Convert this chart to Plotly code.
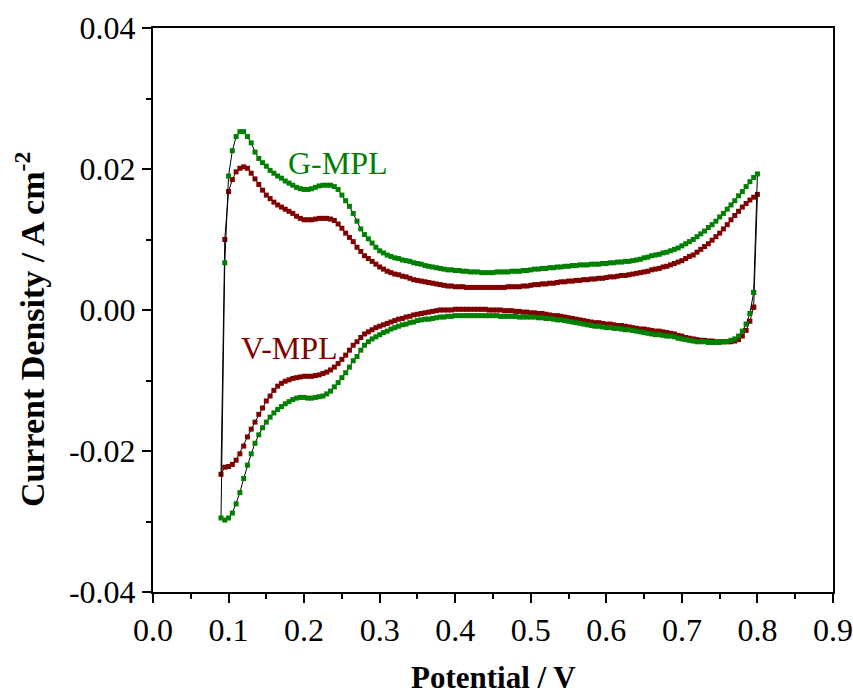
import numpy as np
import plotly.graph_objects as go

# Potential sweep grids (V), step 0.005 V
upper_start, upper_stop = 0.095, 0.800   # anodic (forward) branch
lower_start, lower_stop = 0.795, 0.090   # cathodic (reverse) branch
step = 0.005
upper_E = np.round(np.arange(upper_start, upper_stop + step / 2, step), 3)
lower_E = np.round(np.arange(lower_start, lower_stop - step / 2, -step), 3)

# G-MPL current density (A cm^-2)
g_upper = [
    0.0067, 0.0190, 0.0226, 0.0246, 0.0253, 0.0253, 0.0246, 0.0237, 0.0224, 0.0215,
    0.0209, 0.0204, 0.0198, 0.0194, 0.0190, 0.0187, 0.0183, 0.0180, 0.0177, 0.0174,
    0.0172, 0.0171, 0.0171, 0.0172, 0.0174, 0.0176, 0.0177, 0.0177, 0.0177, 0.0175,
    0.0171, 0.0163, 0.0155, 0.0147, 0.0137, 0.0126, 0.0115, 0.0107, 0.0101, 0.0095,
    0.0089, 0.0084, 0.0081, 0.0078, 0.0076, 0.0074, 0.0073, 0.0071, 0.0070, 0.0069,
    0.0067, 0.0066, 0.0065, 0.0063, 0.0062, 0.0061, 0.0060, 0.0059, 0.0058, 0.0057,
    0.0057, 0.0056, 0.0056, 0.0055, 0.0055, 0.0054, 0.0054, 0.0054, 0.0053, 0.0053,
    0.0053, 0.0053, 0.0054, 0.0054, 0.0054, 0.0054, 0.0055, 0.0055, 0.0055, 0.0056,
    0.0056, 0.0057, 0.0058, 0.0058, 0.0059, 0.0059, 0.0060, 0.0060, 0.0061, 0.0061,
    0.0062, 0.0062, 0.0063, 0.0063, 0.0064, 0.0064, 0.0064, 0.0065, 0.0065, 0.0065,
    0.0066, 0.0066, 0.0067, 0.0067, 0.0068, 0.0068, 0.0069, 0.0069, 0.0070, 0.0071,
    0.0072, 0.0074, 0.0075, 0.0077, 0.0078, 0.0079, 0.0081, 0.0082, 0.0084, 0.0086,
    0.0088, 0.0091, 0.0094, 0.0097, 0.0100, 0.0104, 0.0108, 0.0112, 0.0117, 0.0121,
    0.0126, 0.0132, 0.0137, 0.0143, 0.0149, 0.0155, 0.0162, 0.0168, 0.0175, 0.0182,
    0.0188, 0.0193,
]
g_lower = [
    0.0025, -0.0005, -0.0020, -0.0030, -0.0037, -0.0041, -0.0043, -0.0045, -0.0045, -0.0046,
    -0.0046, -0.0046, -0.0046, -0.0045, -0.0045, -0.0045, -0.0044, -0.0043, -0.0042, -0.0041,
    -0.0040, -0.0038, -0.0037, -0.0037, -0.0036, -0.0035, -0.0035, -0.0034, -0.0033, -0.0032,
    -0.0031, -0.0030, -0.0029, -0.0028, -0.0028, -0.0027, -0.0026, -0.0026, -0.0025, -0.0025,
    -0.0024, -0.0023, -0.0023, -0.0022, -0.0021, -0.0020, -0.0019, -0.0018, -0.0017, -0.0016,
    -0.0015, -0.0014, -0.0014, -0.0013, -0.0012, -0.0012, -0.0011, -0.0011, -0.0010, -0.0010,
    -0.0010, -0.0010, -0.0010, -0.0009, -0.0009, -0.0009, -0.0009, -0.0009, -0.0008, -0.0008,
    -0.0008, -0.0008, -0.0008, -0.0008, -0.0008, -0.0008, -0.0008, -0.0008, -0.0008, -0.0008,
    -0.0009, -0.0009, -0.0010, -0.0010, -0.0011, -0.0012, -0.0013, -0.0013, -0.0014, -0.0015,
    -0.0017, -0.0018, -0.0020, -0.0021, -0.0023, -0.0025, -0.0027, -0.0030, -0.0032, -0.0035,
    -0.0038, -0.0041, -0.0045, -0.0050, -0.0057, -0.0066, -0.0072, -0.0081, -0.0089, -0.0096,
    -0.0103, -0.0109, -0.0115, -0.0119, -0.0122, -0.0123, -0.0124, -0.0125, -0.0125, -0.0124,
    -0.0124, -0.0125, -0.0127, -0.0130, -0.0133, -0.0137, -0.0141, -0.0146, -0.0152, -0.0159,
    -0.0167, -0.0177, -0.0189, -0.0204, -0.0220, -0.0239, -0.0259, -0.0275, -0.0288, -0.0295,
    -0.0298, -0.0295,
]

# V-MPL current density (A cm^-2)
v_upper = [
    0.0100, 0.0168, 0.0185, 0.0196, 0.0201, 0.0203, 0.0201, 0.0194, 0.0186, 0.0178,
    0.0170, 0.0163, 0.0158, 0.0153, 0.0149, 0.0146, 0.0143, 0.0140, 0.0137, 0.0133,
    0.0130, 0.0128, 0.0128, 0.0128, 0.0129, 0.0130, 0.0130, 0.0130, 0.0129, 0.0127,
    0.0122, 0.0116, 0.0109, 0.0103, 0.0097, 0.0089, 0.0083, 0.0077, 0.0073, 0.0069,
    0.0065, 0.0061, 0.0058, 0.0055, 0.0053, 0.0051, 0.0050, 0.0048, 0.0047, 0.0045,
    0.0043, 0.0042, 0.0041, 0.0040, 0.0039, 0.0038, 0.0037, 0.0036, 0.0035, 0.0034,
    0.0034, 0.0033, 0.0033, 0.0033, 0.0032, 0.0032, 0.0032, 0.0032, 0.0032, 0.0032,
    0.0032, 0.0032, 0.0032, 0.0032, 0.0032, 0.0033, 0.0033, 0.0033, 0.0033, 0.0034,
    0.0034, 0.0035, 0.0036, 0.0036, 0.0037, 0.0037, 0.0038, 0.0038, 0.0039, 0.0040,
    0.0040, 0.0041, 0.0041, 0.0042, 0.0042, 0.0043, 0.0043, 0.0044, 0.0044, 0.0045,
    0.0045, 0.0046, 0.0047, 0.0047, 0.0048, 0.0049, 0.0049, 0.0050, 0.0051, 0.0052,
    0.0053, 0.0054, 0.0055, 0.0057, 0.0058, 0.0059, 0.0061, 0.0062, 0.0064, 0.0066,
    0.0068, 0.0070, 0.0073, 0.0076, 0.0078, 0.0082, 0.0086, 0.0090, 0.0094, 0.0099,
    0.0104, 0.0109, 0.0115, 0.0121, 0.0128, 0.0134, 0.0140, 0.0146, 0.0151, 0.0156,
    0.0160, 0.0164,
]
v_lower = [
    0.0004, -0.0016, -0.0029, -0.0037, -0.0042, -0.0044, -0.0045, -0.0045, -0.0045, -0.0045,
    -0.0045, -0.0044, -0.0044, -0.0043, -0.0043, -0.0042, -0.0041, -0.0040, -0.0039, -0.0037,
    -0.0036, -0.0034, -0.0033, -0.0032, -0.0031, -0.0030, -0.0030, -0.0029, -0.0028, -0.0027,
    -0.0027, -0.0026, -0.0025, -0.0024, -0.0023, -0.0022, -0.0022, -0.0021, -0.0020, -0.0020,
    -0.0019, -0.0018, -0.0018, -0.0017, -0.0016, -0.0015, -0.0014, -0.0013, -0.0012, -0.0011,
    -0.0010, -0.0009, -0.0008, -0.0008, -0.0007, -0.0006, -0.0005, -0.0005, -0.0004, -0.0004,
    -0.0003, -0.0003, -0.0002, -0.0002, -0.0001, -0.0001, -0.0001, 0.0000, 0.0000, 0.0000,
    0.0000, 0.0001, 0.0001, 0.0001, 0.0001, 0.0001, 0.0001, 0.0001, 0.0001, 0.0001,
    0.0000, 0.0000, 0.0000, 0.0000, -0.0001, -0.0002, -0.0003, -0.0004, -0.0005, -0.0006,
    -0.0007, -0.0009, -0.0010, -0.0012, -0.0013, -0.0015, -0.0017, -0.0019, -0.0021, -0.0023,
    -0.0025, -0.0028, -0.0031, -0.0034, -0.0039, -0.0045, -0.0050, -0.0057, -0.0064, -0.0070,
    -0.0076, -0.0081, -0.0085, -0.0088, -0.0090, -0.0092, -0.0093, -0.0094, -0.0094, -0.0094,
    -0.0095, -0.0096, -0.0097, -0.0099, -0.0101, -0.0104, -0.0108, -0.0114, -0.0122, -0.0129,
    -0.0139, -0.0148, -0.0159, -0.0169, -0.0180, -0.0193, -0.0204, -0.0213, -0.0219, -0.0222,
    -0.0223, -0.0233,
]

# Axis ticks
x_tickvals = [0.0, 0.1, 0.2, 0.3, 0.4, 0.5, 0.6, 0.7, 0.8, 0.9]
x_ticktext = ["0.0", "0.1", "0.2", "0.3", "0.4", "0.5", "0.6", "0.7", "0.8", "0.9"]
y_tickvals = [-0.04, -0.02, 0.0, 0.02, 0.04]
y_ticktext = ["-0.04", "-0.02", "0.00", "0.02", "0.04"]

series = [
    ("V-MPL", v_lower, v_upper, "#800000"),
    ("G-MPL", g_lower, g_upper, "#008000"),
]
labels = [
    ("G-MPL", 0.245, 0.0208, "#008000"),
    ("V-MPL", 0.180, -0.0054, "#800000"),
]

FONT = "Liberation Serif"

fig = go.Figure()
for name, lower, upper, color in series:
    xs = list(lower_E) + list(upper_E) + [lower_E[0]]
    ys = list(lower) + list(upper) + [lower[0]]
    fig.add_trace(go.Scatter(
        x=xs, y=ys, mode="lines+markers", name=name,
        line=dict(color="black", width=1),
        marker=dict(symbol="square", size=5, color=color, line=dict(width=0)),
        showlegend=False,
    ))

for text, x, y, color in labels:
    fig.add_annotation(x=x, y=y, text=text, showarrow=False,
                       font=dict(family=FONT, size=32, color=color))

# axis titles placed as annotations to match reference positions
fig.add_annotation(
    xref="paper", yref="paper", x=-0.181, y=0.466,
    xanchor="center", yanchor="middle", textangle=-90, showarrow=False,
    text="<b>Current Density / A cm<sup>-2</sup></b>",
    font=dict(family=FONT, size=34, color="black"),
)
fig.add_annotation(
    xref="paper", yref="paper", x=0.5, y=-0.151,
    xanchor="center", yanchor="middle", showarrow=False, borderpad=0,
    text="<b>Potential / V</b>",
    font=dict(family=FONT, size=31, color="black"),
)

fig.update_xaxes(
    range=[0, 0.9], tickvals=x_tickvals, ticktext=x_ticktext,
    ticks="outside", ticklen=9, tickwidth=2, tickcolor="black",
    minor=dict(dtick=0.05, tick0=0, ticks="outside", ticklen=5, tickwidth=2, tickcolor="black"),
    showline=True, linewidth=2, linecolor="black", mirror=True,
    showgrid=False, zeroline=False, automargin=False,
    tickfont=dict(family=FONT, size=32, color="black"),
)
fig.update_yaxes(
    range=[-0.04, 0.04], tickvals=y_tickvals, ticktext=y_ticktext,
    ticks="outside", ticklen=9, tickwidth=2, tickcolor="black",
    minor=dict(dtick=0.01, tick0=0, ticks="outside", ticklen=5, tickwidth=2, tickcolor="black"),
    showline=True, linewidth=2, linecolor="black", mirror=True,
    showgrid=False, zeroline=False, automargin=False,
    tickfont=dict(family=FONT, size=32, color="black"),
)
fig.update_layout(
    width=853, height=695,
    margin=dict(l=153, r=20, t=28, b=103),
    paper_bgcolor="white", plot_bgcolor="white",
    font=dict(family=FONT, color="black"),
)
fig.write_html("out.html")
